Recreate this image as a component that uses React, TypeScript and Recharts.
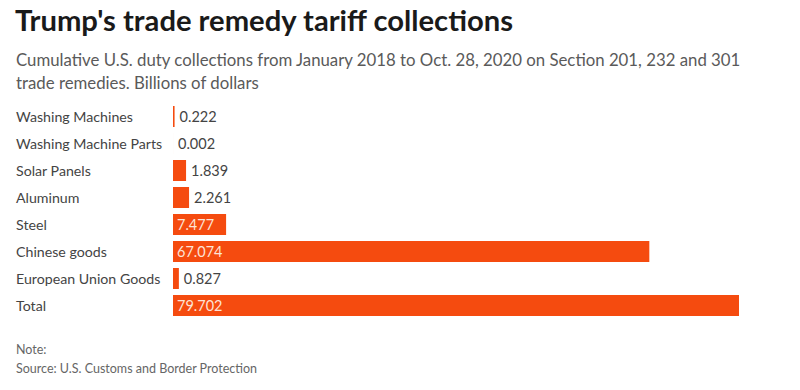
import { BarChart, Bar, XAxis, YAxis, LabelList } from 'recharts'

const categories = [
  'Washing Machines',
  'Washing Machine Parts',
  'Solar Panels',
  'Aluminum',
  'Steel',
  'Chinese goods',
  'European Union Goods',
  'Total',
]
const values = [0.222, 0.002, 1.839, 2.261, 7.477, 67.074, 0.827, 79.702]
const labels = ['0.222', '0.002', '1.839', '2.261', '7.477', '67.074', '0.827', '79.702']

const data = categories.map((name, i) => ({ name, value: values[i], label: labels[i] }))

const FONT = 'Lato, "Open Sans", sans-serif'
const BAR = '#f54b0f'

function CategoryTick(props: any) {
  const { y, payload } = props
  return (
    <text x={16} y={y} dy={5} textAnchor="start" fontSize={14.2} fill="#444" fontFamily={FONT}>
      {payload.value}
    </text>
  )
}

function ValueLabel(props: any) {
  const { x, y, width, height, value } = props
  const inside = width > 40
  return (
    <text
      x={inside ? x + 4 : x + width + 5}
      y={y + height / 2}
      dy={5}
      fontSize={14.5}
      fill={inside ? '#fde3d6' : '#444'}
      fontFamily={FONT}
    >
      {value}
    </text>
  )
}

export default function App() {
  return (
    <div style={{ position: 'relative', width: 800, height: 390, margin: -8, background: '#fff', fontFamily: FONT }}>
      <div style={{ position: 'absolute', left: 15, top: 2, fontSize: 29.2, fontWeight: 700, color: '#1a1a1a', whiteSpace: 'nowrap' }}>
        Trump's trade remedy tariff collections
      </div>
      <div style={{ position: 'absolute', left: 16, top: 48, fontSize: 16.8, lineHeight: '23px', color: '#5a5a5a', whiteSpace: 'nowrap' }}>
        <div>Cumulative U.S. duty collections from January 2018 to Oct. 28, 2020 on Section 201, 232 and 301</div>
        <div>trade remedies. Billions of dollars</div>
      </div>
      <div style={{ position: 'absolute', left: 0, top: 103 }}>
        <BarChart
          width={800}
          height={216}
          data={data}
          layout="vertical"
          margin={{ top: 0, right: 61, left: 0, bottom: 0 }}
          barCategoryGap={3}
        >
          <XAxis type="number" hide domain={[0, 79.702]} />
          <YAxis
            type="category"
            dataKey="name"
            width={173}
            axisLine={false}
            tickLine={false}
            tick={<CategoryTick />}
            interval={0}
          />
          <Bar dataKey="value" fill={BAR} barSize={21} isAnimationActive={false}>
            <LabelList dataKey="label" content={<ValueLabel />} />
          </Bar>
        </BarChart>
      </div>
      <div style={{ position: 'absolute', left: 16, top: 340, fontSize: 12.5, lineHeight: '19px', color: '#666' }}>
        <div>Note:</div>
        <div>Source: U.S. Customs and Border Protection</div>
      </div>
    </div>
  )
}
